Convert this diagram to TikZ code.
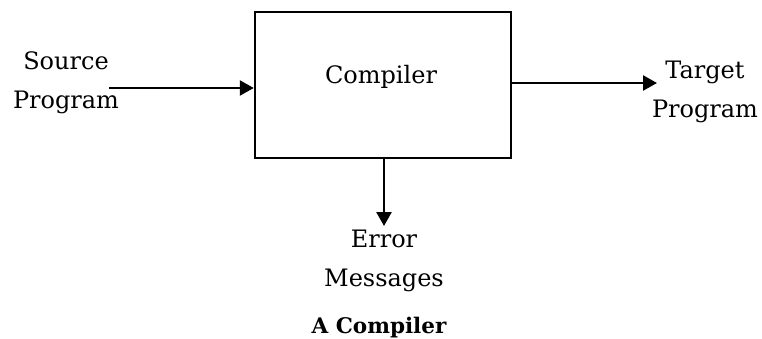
\documentclass[tikz,border=0pt]{standalone}
\usepackage{fontspec}
\setmainfont{DejaVu Serif}
\usetikzlibrary{arrows.meta}
\begin{document}
\begin{tikzpicture}[x=1pt,y=-1pt,
  lbl/.style={inner sep=0pt,align=center,font=\fontsize{24}{39}\selectfont},
  blk/.style={draw,line width=2.5pt,minimum width=256pt,minimum height=146pt,inner sep=0pt},
  flow/.style={line width=2.5pt,-{Triangle[length=14pt,width=15pt]}}]
  \useasboundingbox[fill=white] (0,0) rectangle (762,338);
  % compiler block and its label
  \node[blk] (comp) at (383,85) {};
  \node[lbl,anchor=base] (compname) at (381,83) {Compiler};
  % input, output and error labels
  \node[lbl] (src) at (66,83) {Source\\Program};
  \node[lbl] (tgt) at (705,92) {Target\\Program};
  \node[lbl] (err) at (384,261) {Error\\Messages};
  \node[lbl,anchor=base,font=\fontsize{21.5}{25}\selectfont\bfseries] (cap) at (379,333) {A Compiler};
  % arrow ends
  \coordinate (srcend) at (109,88);
  \coordinate (tgtend) at (657,83);
  \coordinate (errend) at (384,226);
  \draw[flow] (srcend) -- (srcend -| comp.west);
  \draw[flow] (tgtend -| comp.east) -- (tgtend);
  \draw[flow] (errend |- comp.south) -- (errend);
\end{tikzpicture}
\end{document}
